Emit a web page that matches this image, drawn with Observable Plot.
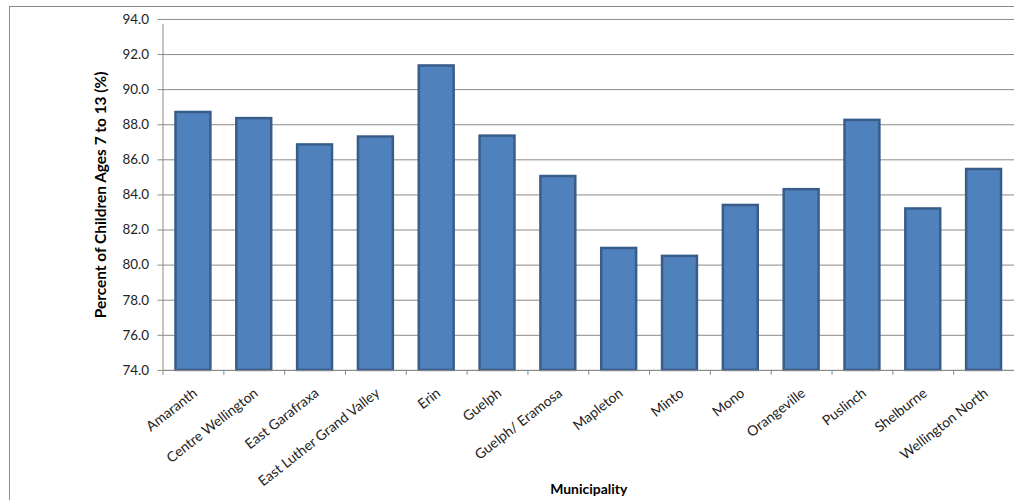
<!DOCTYPE html>
<html>
<head>
<meta charset="utf-8">
<script src="https://cdn.jsdelivr.net/npm/d3@7"></script>
<script src="https://cdn.jsdelivr.net/npm/@observablehq/plot@0.6"></script>
<style>
  html, body { margin: 0; padding: 0; background: #fff; }
  #wrap { position: relative; width: 1014px; height: 500px; overflow: hidden; background: #fff; }
  #chart { position: absolute; left: 0; top: 0; }
  .frame-top { position: absolute; left: 9px; top: 6px; width: 1010px; height: 0; border-top: 1px solid #8c8c8c; }
  .frame-left { position: absolute; left: 9px; top: 6px; width: 0; height: 500px; border-left: 1px solid #8c8c8c; }
</style>
</head>
<body>
<div id="wrap">
  <div class="frame-top"></div>
  <div class="frame-left"></div>
  <div id="chart"></div>
</div>
<script>
const municipalities = [
  "Amaranth", "Centre Wellington", "East Garafraxa", "East Luther Grand Valley",
  "Erin", "Guelph", "Guelph/ Eramosa", "Mapleton", "Minto", "Mono",
  "Orangeville", "Puslinch", "Shelburne", "Wellington North"
];
const percents = [88.7, 88.35, 86.85, 87.3, 91.35, 87.35, 85.05, 80.95, 80.5, 83.4, 84.3, 88.25, 83.2, 85.45];
const yTicks = [74, 76, 78, 80, 82, 84, 86, 88, 90, 92, 94];
const yTitle = "Percent of Children Ages 7 to 13 (%)";
const xTitle = "Municipality";

const data = municipalities.map((m, i) => ({ m, v: percents[i] }));
const step = (1017 - 163) / municipalities.length;

const chart = Plot.plot({
  width: 1017,
  height: 500,
  marginLeft: 163,
  marginRight: 0,
  marginTop: 19,
  marginBottom: 129,
  style: { fontFamily: "Lato, 'Open Sans', sans-serif", fontSize: "13px", color: "#000", background: "transparent", overflow: "visible" },
  x: { domain: municipalities, padding: 0 },
  y: { domain: [74, 94] },
  marks: [
    Plot.gridY(yTicks, { stroke: "#8a8a8a", strokeOpacity: 1, strokeWidth: 1 }),
    Plot.barY(data, { x: "m", y1: 74, y2: "v", fill: "#4f81bd", stroke: "#385d8a", strokeWidth: 2.5, insetLeft: 13, insetRight: 13 }),
    Plot.ruleX(municipalities, { x: d => d, y1: 74, y2: 74, insetBottom: -5, dx: -step / 2, stroke: "#8a8a8a" }),
    Plot.ruleY([74], { stroke: "#8a8a8a" }),
    Plot.ruleX([municipalities[0]], { x: d => d, dx: -step / 2, y1: 74, y2: 94, insetBottom: -5, stroke: "#8a8a8a" }),
    Plot.axisY(yTicks, {
      tickFormat: d => d.toFixed(1), tickSize: 5, tickPadding: 9, stroke: "#8a8a8a",
      fontSize: 13.5, fill: "#222",
      label: null
    }),
    Plot.axisX({
      tickSize: 0, tickPadding: 21, tickRotate: -38, fontSize: 14, fill: "#222", dx: 2,
      label: null
    }),
    Plot.text([yTitle], {
      frameAnchor: "left", rotate: -90, dx: -62, text: d => d, textAnchor: "middle",
      fontSize: 15.5, fontWeight: "bold", fill: "#000"
    }),
    Plot.text([xTitle], {
      frameAnchor: "bottom", dy: 124, text: d => d,
      fontSize: 14, fontWeight: "bold", fill: "#000"
    })
  ]
});
document.getElementById("chart").appendChild(chart);
</script>
</body>
</html>
